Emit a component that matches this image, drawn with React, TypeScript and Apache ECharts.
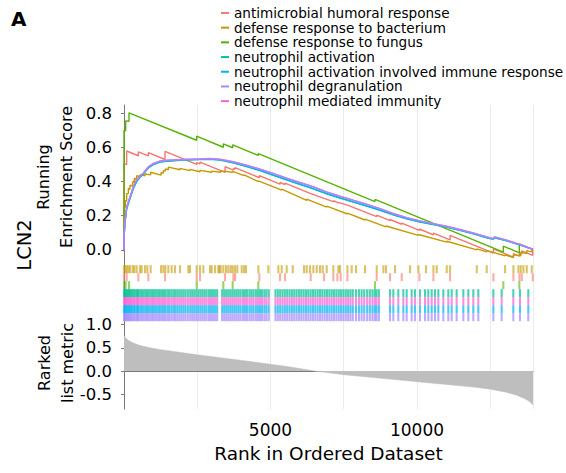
import React, { useEffect, useRef } from "react";
import * as echarts from "echarts";

const GENE_SETS = [
  "antimicrobial humoral response",
  "defense response to bacterium",
  "defense response to fungus",
  "neutrophil activation",
  "neutrophil activation involved immune response",
  "neutrophil degranulation",
  "neutrophil mediated immunity",
];
const COLORS = ["#F8766D", "#C49A00", "#53B400", "#00C094", "#00B6EB", "#A58AFF", "#FB61D7"];
const N_GENES = 13960;
const X_LABELS = [5000, 10000];
const ES_TICKS = [0, 0.2, 0.4, 0.6, 0.8];
const METRIC_TICKS = [-0.5, 0, 0.5, 1.0];
// rows of the hit barcode, top to bottom (indices into GENE_SETS)
const HIT_ROW_ORDER = [1, 0, 2, 3, 6, 4, 5];

// running enrichment score curves: [rank, ES]
const ES_ANTIMICROBIAL = [
  [0, 0], [0, 0.506], [91, 0.5], [91, 0.58], [489, 0.552], [489, 0.575], [831, 0.551], [831, 0.57],
  [1400, 0.53], [1400, 0.578], [2481, 0.501], [2481, 0.512], [2595, 0.504], [2595, 0.515],
  [3448, 0.454], [3448, 0.488], [3733, 0.468], [3733, 0.478], [3790, 0.474], [3790, 0.482],
  [4620, 0.423], [4620, 0.435], [5326, 0.385], [5326, 0.395], [5497, 0.383], [5497, 0.392],
  [6373, 0.33], [6373, 0.334], [6828, 0.302], [6828, 0.306], [7146, 0.283], [7146, 0.288],
  [7283, 0.278], [7283, 0.282], [7397, 0.274], [7397, 0.278], [7625, 0.262], [7625, 0.266],
  [8626, 0.195], [8626, 0.203], [9081, 0.171], [9081, 0.178], [9480, 0.15], [9480, 0.157],
  [10083, 0.114], [10083, 0.122], [10561, 0.088], [10561, 0.098], [11130, 0.058], [11130, 0.085],
  [12609, -0.02], [12609, 0.005], [13292, -0.043], [13292, -0.022], [13497, -0.037], [13497, -0.018],
  [13576, -0.024], [13576, -0.006], [13952, -0.033], [13952, 0.0],
];
const ES_BACTERIUM = [
  [0, 0], [0, 0.25], [45, 0.25], [45, 0.29], [91, 0.285], [91, 0.33], [148, 0.33], [148, 0.36],
  [205, 0.355], [205, 0.38], [296, 0.375], [296, 0.4], [353, 0.395], [353, 0.42], [432, 0.415],
  [432, 0.435], [546, 0.43], [546, 0.44], [717, 0.435], [717, 0.445], [910, 0.44], [910, 0.455],
  [1263, 0.438], [1263, 0.452], [1343, 0.45], [1343, 0.465], [1411, 0.462], [1411, 0.475],
  [1514, 0.47], [1514, 0.485], [1912, 0.47], [1912, 0.478], [2253, 0.465], [2253, 0.472],
  [2595, 0.458], [2595, 0.466], [2993, 0.455], [2993, 0.462], [3300, 0.455], [3300, 0.463],
  [3710, 0.455], [3710, 0.46], [4097, 0.435], [4097, 0.44], [4586, 0.4], [4586, 0.405],
  [5383, 0.35], [5383, 0.356], [6236, 0.29], [6236, 0.297], [6919, 0.25], [6919, 0.256],
  [7625, 0.21], [7625, 0.215], [8227, 0.175], [8227, 0.18], [8945, 0.135], [8945, 0.14],
  [10049, 0.085], [10049, 0.09], [11016, 0.045], [11016, 0.05], [12040, 0.0], [12040, 0.005],
  [12381, -0.012], [12381, -0.005], [13007, -0.035], [13007, -0.03], [13292, -0.045], [13292, -0.03],
  [13542, -0.035], [13542, -0.015], [13747, -0.022], [13747, -0.005], [13918, -0.012], [13918, -0.002],
  [13960, -0.005],
];
const ES_FUNGUS = [
  [0, 0], [0, 0.7], [57, 0.698], [57, 0.757], [171, 0.755], [171, 0.804], [2480, 0.643], [2480, 0.667],
  [3390, 0.602], [3390, 0.622], [3709, 0.599], [3709, 0.616], [4585, 0.554], [4585, 0.565],
  [8567, 0.283], [8567, 0.296], [12947, -0.014], [12947, 0.022], [13493, -0.018], [13493, 0.035],
  [13960, 0.002],
];
const ES_ACTIVATION = [
  [0, 0], [0, 0.07], [34, 0.16], [91, 0.24], [205, 0.3], [319, 0.36], [432, 0.4], [546, 0.425],
  [660, 0.445], [830, 0.48], [1001, 0.5], [1229, 0.515], [1456, 0.52], [2025, 0.527], [2594, 0.53],
  [2935, 0.531], [3277, 0.527], [3732, 0.51], [4187, 0.489], [4642, 0.465], [5097, 0.437],
  [5552, 0.41], [6007, 0.384], [6462, 0.358], [6917, 0.329], [7372, 0.304], [7827, 0.28],
  [8282, 0.257], [8737, 0.232], [9192, 0.205], [9647, 0.182], [10102, 0.163], [10557, 0.148],
  [11012, 0.133], [11468, 0.114], [11923, 0.094], [12378, 0.071], [12605, 0.062], [12650, 0.07],
  [13060, 0.053], [13515, 0.028], [13960, 0.002],
];
const ES_ACTIVATION_IMMUNE = [
  [0, 0], [0, 0.07], [34, 0.16], [91, 0.245], [205, 0.305], [319, 0.362], [432, 0.402], [546, 0.427],
  [660, 0.447], [830, 0.482], [1001, 0.502], [1229, 0.516], [1456, 0.521], [2025, 0.528], [2594, 0.531],
  [2935, 0.532], [3277, 0.528], [3732, 0.511], [4187, 0.49], [4642, 0.466], [5097, 0.438],
  [5552, 0.411], [6007, 0.385], [6462, 0.359], [6917, 0.33], [7372, 0.305], [7827, 0.281],
  [8282, 0.258], [8737, 0.233], [9192, 0.206], [9647, 0.183], [10102, 0.164], [10557, 0.149],
  [11012, 0.134], [11468, 0.115], [11923, 0.095], [12378, 0.072], [12605, 0.063], [12650, 0.071],
  [13060, 0.054], [13515, 0.029], [13960, 0.002],
];
const ES_DEGRANULATION = [
  [0, 0], [0, 0.08], [34, 0.17], [91, 0.25], [205, 0.31], [319, 0.37], [432, 0.41], [546, 0.43],
  [660, 0.45], [830, 0.486], [1001, 0.506], [1229, 0.52], [1456, 0.525], [2025, 0.53], [2594, 0.533],
  [2935, 0.535], [3277, 0.531], [3732, 0.516], [4187, 0.496], [4642, 0.473], [5097, 0.447],
  [5552, 0.42], [6007, 0.394], [6462, 0.369], [6917, 0.339], [7372, 0.314], [7827, 0.29],
  [8282, 0.267], [8737, 0.241], [9192, 0.212], [9647, 0.188], [10102, 0.169], [10557, 0.153],
  [11012, 0.137], [11468, 0.118], [11923, 0.098], [12378, 0.075], [12605, 0.065], [12650, 0.075],
  [13060, 0.056], [13515, 0.03], [13960, 0.003],
];
const ES_MEDIATED = [
  [0, 0], [0, 0.08], [34, 0.17], [91, 0.252], [205, 0.312], [319, 0.371], [432, 0.411], [546, 0.432],
  [660, 0.451], [830, 0.487], [1001, 0.507], [1229, 0.521], [1456, 0.526], [2025, 0.531], [2594, 0.534],
  [2935, 0.536], [3277, 0.532], [3732, 0.517], [4187, 0.497], [4642, 0.474], [5097, 0.448],
  [5552, 0.421], [6007, 0.395], [6462, 0.37], [6917, 0.34], [7372, 0.315], [7827, 0.291],
  [8282, 0.268], [8737, 0.242], [9192, 0.213], [9647, 0.189], [10102, 0.17], [10557, 0.154],
  [11012, 0.138], [11468, 0.119], [11923, 0.099], [12378, 0.076], [12605, 0.066], [12650, 0.076],
  [13060, 0.057], [13515, 0.031], [13960, 0.003],
];

// hit positions (ranks) of each gene set
const HITS_ANTIMICROBIAL = [
  0, 91, 489, 831, 1400, 2481, 2595, 3448, 3733, 3790, 4620, 5326, 5497, 6373, 6828, 7146, 7283,
  7397, 7625, 8626, 9081, 9480, 10083, 10561, 11130, 12609, 13292, 13497, 13576, 13952,
];
const HITS_BACTERIUM = [
  0, 45, 91, 148, 205, 296, 353, 432, 546, 603, 717, 797, 910, 1263, 1343, 1411, 1514, 1627, 1741,
  1912, 2196, 2253, 2481, 2595, 2708, 2936, 2993, 3107, 3221, 3255, 3300, 3391, 3482, 3562, 3642,
  3710, 3790, 3869, 4017, 4097, 4165, 4586, 4928, 5269, 5383, 5553, 5758, 6145, 6236, 6350, 6464,
  6578, 6692, 6782, 6919, 7146, 7317, 7374, 7625, 7772, 7920, 8227, 8626, 8854, 8945, 9252, 9764,
  10049, 10310, 10561, 10674, 11016, 11130, 12040, 12381, 13007, 13292, 13462, 13542, 13633, 13747,
  13918,
];
const HITS_FUNGUS = [0, 57, 171, 2480, 3390, 3709, 4585, 8567, 12947, 13493];
const HITS_NEUTROPHIL = [
  0, 30, 60, 95, 130, 170, 210, 250, 290, 340, 390, 440, 480, 530, 590, 640, 700, 760, 810, 870,
  930, 990, 1050, 1110, 1170, 1230, 1300, 1360, 1420, 1490, 1550, 1620, 1690, 1750, 1820, 1890,
  1960, 2030, 2100, 2180, 2260, 2330, 2400, 2470, 2540, 2610, 2680, 2750, 2820, 2900, 2970, 3040,
  3110, 3180, 3350, 3420, 3490, 3560, 3630, 3700, 3770, 3840, 3910, 3980, 4060, 4130, 4200, 4280,
  4350, 4420, 4500, 4570, 4640, 4710, 4790, 4860, 4940, 5170, 5250, 5330, 5410, 5490, 5570, 5650,
  5730, 5810, 5890, 5970, 6050, 6130, 6210, 6290, 6370, 6450, 6530, 6610, 6690, 6770, 6850, 6930,
  7010, 7090, 7170, 7250, 7330, 7410, 7490, 7570, 7650, 7730, 7810, 7920, 8020, 8110, 8200, 8300,
  8390, 8480, 8560, 8620, 8700, 9079, 9193, 9363, 9534, 9648, 9818, 9932, 10103, 10274, 10387,
  10501, 10615, 10729, 10899, 11070, 11184, 11354, 11582, 11753, 11923, 12094, 12606, 12890, 13288,
  13516, 13800,
];

// ranked list metric: [rank, value]
const RANKED_METRIC = [
  [0, 0.76], [30, 0.73], [80, 0.7], [150, 0.66], [300, 0.61], [500, 0.56], [800, 0.51], [1200, 0.465],
  [1700, 0.42], [2500, 0.35], [3500, 0.27], [4500, 0.19], [5000, 0.145], [5500, 0.105], [6000, 0.055],
  [6500, 0.0], [7000, -0.04], [7500, -0.08], [8500, -0.14], [9500, -0.2], [10000, -0.23],
  [11000, -0.29], [12000, -0.35], [12500, -0.39], [13000, -0.45], [13400, -0.52], [13700, -0.6],
  [13850, -0.66], [13960, -0.73],
];

const ES_BY_SET = [
  ES_ANTIMICROBIAL, ES_BACTERIUM, ES_FUNGUS, ES_ACTIVATION, ES_ACTIVATION_IMMUNE, ES_DEGRANULATION, ES_MEDIATED,
];
const HITS_BY_SET = [
  HITS_ANTIMICROBIAL, HITS_BACTERIUM, HITS_FUNGUS, HITS_NEUTROPHIL, HITS_NEUTROPHIL, HITS_NEUTROPHIL, HITS_NEUTROPHIL,
];

const FONT = "DejaVu Sans, Arial, sans-serif";
const AXIS_COLOR = "#7a7a7a";
const TEXT_COLOR = "#000";

export default function App() {
  const ref = useRef<HTMLDivElement>(null);
  useEffect(() => {
    if (!ref.current) return;
    const chart = echarts.init(ref.current, null, { renderer: "svg" });
    const xBase = {
      type: "value",
      min: 0,
      max: N_GENES,
      interval: 2500,
      splitLine: { show: true, lineStyle: { color: "#ECECEC", width: 1 } },
      axisTick: { show: false },
      axisLabel: { show: false },
      axisLine: { show: false },
    };
    const lineSeries = GENE_SETS.map((name, i) => ({
      type: "line",
      name,
      xAxisIndex: 0,
      yAxisIndex: 0,
      data: ES_BY_SET[i],
      showSymbol: false,
      symbol: "none",
      color: COLORS[i],
      lineStyle: { width: 1.4, color: COLORS[i] },
      z: i === 5 ? 4 : 3,
      silent: true,
    }));
    const hitSeries = HIT_ROW_ORDER.map((setIdx, row) => ({
      type: "scatter",
      name: "hits " + row,
      xAxisIndex: 1,
      yAxisIndex: 1,
      symbol: "rect",
      symbolSize: [2.1, 8],
      silent: true,
      itemStyle: { color: COLORS[setIdx], opacity: setIdx >= 3 ? 0.72 : 0.6 },
      data: HITS_BY_SET[setIdx].map((r) => [r, row + 0.5]),
    }));
    const option = {
      animation: false,
      backgroundColor: "#ffffff",
      textStyle: { fontFamily: FONT },
      legend: {
        data: GENE_SETS,
        orient: "vertical",
        left: 221,
        top: 5.6,
        padding: 0,
        itemWidth: 8,
        itemHeight: 2,
        itemGap: 0,
        icon: "rect",
        selectedMode: false,
        textStyle: { fontSize: 13.6, lineHeight: 14.7, color: TEXT_COLOR, fontFamily: FONT },
      },
      grid: [
        { left: 124, right: 33, top: 105, height: 157 },
        { left: 124, right: 33, top: 262, height: 60 },
        { left: 124, right: 33, top: 322, height: 87 },
      ],
      xAxis: [
        { ...xBase, gridIndex: 0 },
        { ...xBase, gridIndex: 1 },
        {
          ...xBase,
          gridIndex: 2,
          axisLine: { show: true, lineStyle: { color: AXIS_COLOR, width: 1 } },
          axisLabel: {
            show: true,
            fontSize: 17,
            margin: 12,
            color: TEXT_COLOR,
            fontFamily: FONT,
            formatter: (v: number) => (X_LABELS.includes(v) ? String(v) : ""),
          },
          name: "Rank in Ordered Dataset",
          nameLocation: "middle",
          nameGap: 35,
          nameTextStyle: { fontSize: 18.5, color: TEXT_COLOR, fontFamily: FONT },
        },
      ],
      yAxis: [
        {
          type: "value",
          gridIndex: 0,
          min: -0.0716,
          max: 0.85,
          splitLine: { show: false },
          axisLine: { show: true, lineStyle: { color: AXIS_COLOR, width: 1 } },
          axisTick: { show: true, length: 3, customValues: ES_TICKS, lineStyle: { color: AXIS_COLOR } },
          axisLabel: {
            customValues: ES_TICKS,
            fontSize: 16.5,
            margin: 12,
            color: TEXT_COLOR,
            fontFamily: FONT,
            formatter: (v: number) => v.toFixed(1),
          },
        },
        {
          type: "value",
          gridIndex: 1,
          min: -0.4,
          max: 7.1,
          inverse: true,
          splitLine: { show: false },
          axisLine: { show: true, lineStyle: { color: AXIS_COLOR, width: 1 } },
          axisTick: { show: false },
          axisLabel: { show: false },
        },
        {
          type: "value",
          gridIndex: 2,
          min: -0.817,
          max: 1.054,
          splitLine: { show: false },
          axisLine: { show: true, lineStyle: { color: AXIS_COLOR, width: 1 } },
          axisTick: { show: true, length: 3, customValues: METRIC_TICKS, lineStyle: { color: AXIS_COLOR } },
          axisLabel: {
            customValues: METRIC_TICKS,
            fontSize: 16.5,
            margin: 12,
            color: TEXT_COLOR,
            fontFamily: FONT,
            formatter: (v: number) => v.toFixed(1),
          },
        },
      ],
      graphic: [
        {
          type: "text",
          left: 11,
          top: 9,
          style: { text: "A", fontSize: 20, fontWeight: "bold", fill: "#000", fontFamily: FONT },
        },
        {
          type: "text",
          x: 24,
          y: 245,
          rotation: Math.PI / 2,
          style: {
            text: "LCN2",
            fontSize: 19.5,
            fill: TEXT_COLOR,
            fontFamily: FONT,
            align: "center",
            verticalAlign: "middle",
          },
        },
        {
          type: "text",
          x: 55,
          y: 177,
          rotation: Math.PI / 2,
          style: {
            text: "Running\nEnrichment Score",
            fontSize: 16,
            lineHeight: 23,
            fill: TEXT_COLOR,
            fontFamily: FONT,
            align: "center",
            verticalAlign: "middle",
          },
        },
        {
          type: "text",
          x: 56,
          y: 363,
          rotation: Math.PI / 2,
          style: {
            text: "Rarked\nlist metric",
            fontSize: 16,
            lineHeight: 23,
            fill: TEXT_COLOR,
            fontFamily: FONT,
            align: "center",
            verticalAlign: "middle",
          },
        },
      ],
      series: [
        ...lineSeries,
        ...hitSeries,
        {
          type: "line",
          name: "ranked list metric",
          xAxisIndex: 2,
          yAxisIndex: 2,
          data: RANKED_METRIC,
          showSymbol: false,
          symbol: "none",
          silent: true,
          color: "#BEBEBE",
          lineStyle: { width: 0.5, color: "#BEBEBE" },
          areaStyle: { color: "#BEBEBE", opacity: 1 },
        },
      ],
    };
    chart.setOption(option as any);
    return () => chart.dispose();
  }, []);
  return (
    <div
      ref={ref}
      style={{ position: "fixed", left: 0, top: 0, width: 566, height: 473, background: "#fff" }}
    />
  );
}
